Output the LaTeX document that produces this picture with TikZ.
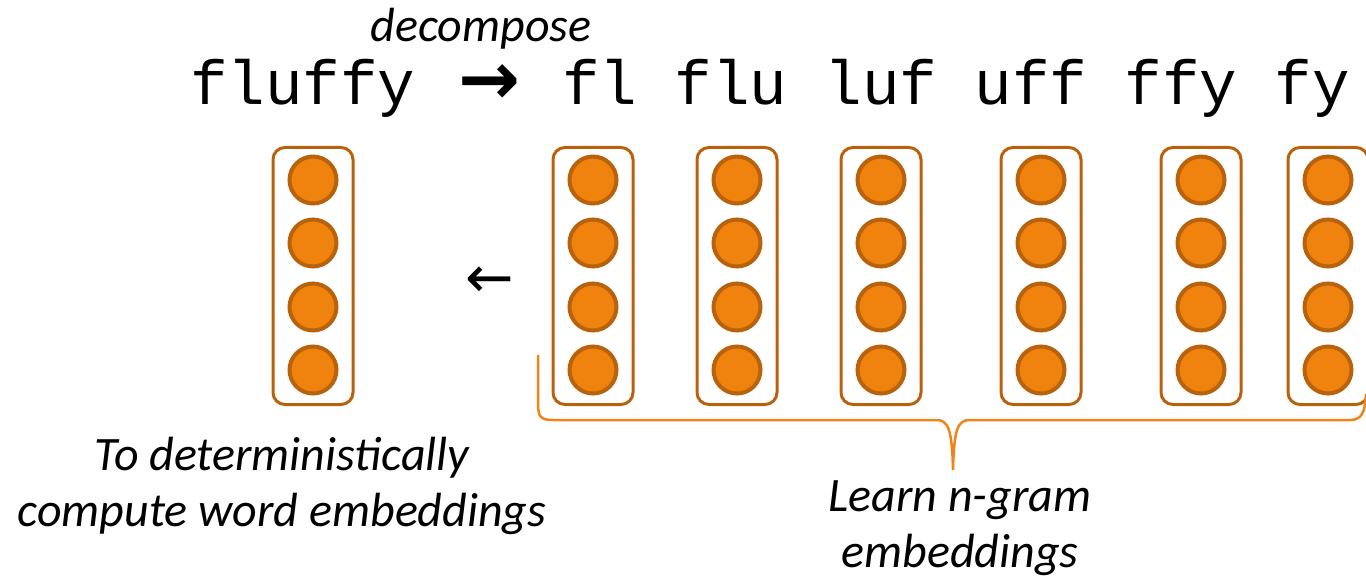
\documentclass[tikz,border=0pt]{standalone}
\usepackage{fontspec}
\setmainfont{Carlito}
\newfontfamily\monofont{Liberation Mono}
\newfontfamily\symfont{DejaVu Sans}
\definecolor{dotfill}{HTML}{F0820E}
\definecolor{dotline}{HTML}{B8620C}
\definecolor{bracecol}{HTML}{F08418}
\tikzset{
  vecbox/.style={draw=dotline, line width=3pt, rounded corners=12pt, minimum width=80pt, minimum height=257pt, inner sep=0pt},
  dot/.style={circle, draw=dotline, fill=dotfill, line width=4pt, minimum size=47pt, inner sep=0pt},
  bracepath/.style={draw=bracecol, line width=2.5pt},
  lbl/.style={font=\fontsize{48}{56}\selectfont\itshape, align=center, inner sep=0pt},
  mono/.style={font=\fontsize{62.5}{70}\monofont, inner sep=0pt, anchor=base west}
}
\begin{document}
\begin{tikzpicture}[x=1pt,y=-1pt]
\useasboundingbox (0,0) rectangle (1366,577);
\node[lbl] (decomp) at (481,29) {decompose};
\node[mono] (word) at (190,105) {fluffy};
\node[font=\fontsize{74}{76}\symfont\bfseries, inner sep=0pt] (darrow) at (489,85) {→};
\node[mono] (ngrams) at (562,105) {fl flu luf uff ffy fy};
\foreach \i/\x in {1/313,2/593,3/737,4/881,5/1041,6/1201,7/1328}{
  \node[vecbox] (v\i) at (\x,276) {};
  \foreach \j/\y in {1/180,2/243,3/307,4/370}{
    \node[dot] (c\i-\j) at (\x,\y) {};
  }
}
\node[font=\fontsize{58}{60}\symfont, inner sep=0pt] (larrow) at (490,282) {←};
\draw[bracepath] (538,355) -- (538,404) .. controls (538,417) and (541,420) .. (553,420) -- (936,420) .. controls (948,420) and (952,428) .. (953,470) .. controls (954,428) and (958,420) .. (970,420) -- (1350,420) .. controls (1362,420) and (1365,412) .. (1366,394);
\node[lbl] (left) at (282,486) {To deterministically\\compute word embeddings};
\node[lbl] (right) at (960,528) {Learn n-gram\\embeddings};
\end{tikzpicture}
\end{document}
